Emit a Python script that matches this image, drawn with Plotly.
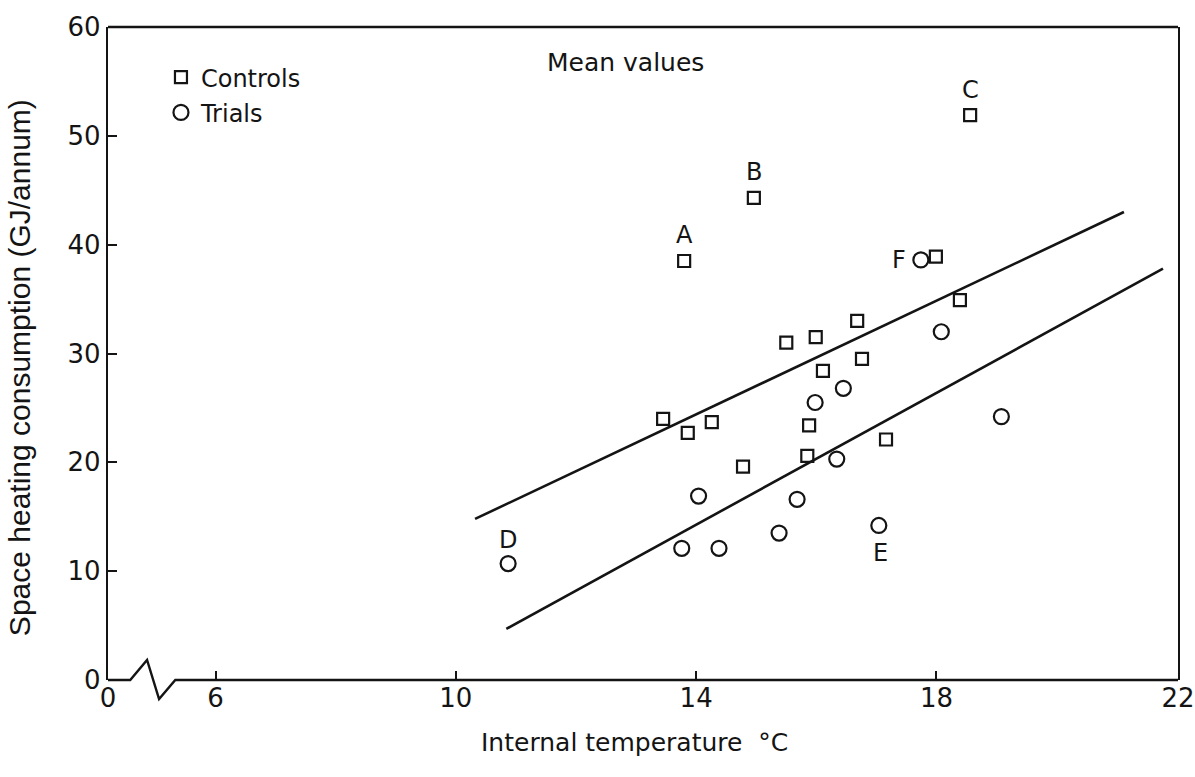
import plotly.graph_objects as go

# ---------------- data ----------------
ctrl_x = [13.80, 14.96, 18.56, 17.99, 18.39, 16.68, 15.99, 15.50, 16.76, 16.11,
          13.45, 14.26, 13.86, 15.88, 15.85, 14.78, 17.16]
ctrl_y = [38.5, 44.3, 51.9, 38.9, 34.9, 33.0, 31.5, 31.0, 29.5, 28.4,
          24.0, 23.7, 22.7, 23.4, 20.6, 19.6, 22.1]

trial_x = [17.74, 18.08, 19.08, 16.45, 15.98, 16.34, 14.04, 15.68, 15.38, 17.04,
           13.76, 14.38, 10.87]
trial_y = [38.6, 32.0, 24.2, 26.8, 25.5, 20.3, 16.9, 16.6, 13.5, 14.2,
           12.1, 12.1, 10.7]

upper_line_x = [10.32, 21.12]
upper_line_y = [14.8, 43.0]
lower_line_x = [10.84, 21.77]
lower_line_y = [4.7, 37.8]

# point labels
label_text = ["A", "B", "C", "D", "E", "F"]
label_x = [13.80, 14.96, 18.56, 10.87, 17.06, 17.38]
label_y = [40.9, 46.7, 54.2, 12.9, 11.7, 38.6]

xtick_vals = [4.21, 6, 10, 14, 18, 22.02]
xtick_text = ["0", "6", "10", "14", "18", "22"]
ytick_vals = [0, 10, 20, 30, 40, 50, 60]

# ---------------- layout constants ----------------
X0, X1 = 4.21, 22.02
Y0, Y1 = 0, 60
INK = "#141414"
FONT = "DejaVu Sans"

# axis-break zigzag on the x axis (data units)
break_x = [X0, 4.58, 4.86, 5.06, 5.33, X1]
break_y = [0, 0, 1.84, -1.75, 0, 0]


def px(x):
    return (x - X0) / (X1 - X0)


def py(y):
    return (y - Y0) / (Y1 - Y0)


fig = go.Figure()

fig.add_trace(go.Scatter(
    x=upper_line_x, y=upper_line_y, mode="lines",
    line=dict(color=INK, width=2.6), showlegend=False, hoverinfo="skip"))
fig.add_trace(go.Scatter(
    x=lower_line_x, y=lower_line_y, mode="lines",
    line=dict(color=INK, width=2.6), showlegend=False, hoverinfo="skip"))

fig.add_trace(go.Scatter(
    x=ctrl_x, y=ctrl_y, mode="markers", name="Controls", legendgroup="c",
    marker=dict(symbol="square-open", size=12, color=INK, line=dict(width=2.2, color=INK))))
fig.add_trace(go.Scatter(
    x=trial_x, y=trial_y, mode="markers", name="Trials", legendgroup="t",
    marker=dict(symbol="circle-open", size=15, color=INK, line=dict(width=2.2, color=INK))))

annotations = []
for t, x, y in zip(label_text, label_x, label_y):
    annotations.append(dict(x=x, y=y, xref="x", yref="y", text=t, showarrow=False,
                            xanchor="center", yanchor="middle",
                            font=dict(family=FONT, size=24, color=INK)))

annotations.append(dict(x=0.484, y=0.946, xref="paper", yref="paper", text="Mean values",
                        showarrow=False, xanchor="center", yanchor="middle",
                        font=dict(family=FONT, size=25, color=INK)))
annotations.append(dict(x=0.492, y=-0.095, xref="paper", yref="paper",
                        text="Internal temperature  °C", showarrow=False,
                        xanchor="center", yanchor="middle",
                        font=dict(family=FONT, size=25, color=INK)))
annotations.append(dict(x=-0.082, y=0.478, xref="paper", yref="paper",
                        text="Space heating consumption (GJ/annum)", showarrow=False,
                        textangle=-90, xanchor="center", yanchor="middle",
                        font=dict(family="Liberation Sans", size=30, color=INK)))

path = "M " + " L ".join(f"{px(x):.5f},{py(y):.5f}" for x, y in zip(break_x, break_y))
shapes = [
    dict(type="path", xref="paper", yref="paper", path=path,
         line=dict(color=INK, width=2.4)),
    dict(type="line", xref="paper", yref="paper", x0=0, x1=1, y0=1, y1=1,
         line=dict(color=INK, width=2.4)),
]

fig.update_layout(
    width=1195, height=777,
    margin=dict(l=108, r=17, t=27, b=97, autoexpand=False),
    paper_bgcolor="white", plot_bgcolor="white",
    font=dict(family=FONT, color=INK),
    annotations=annotations, shapes=shapes,
    legend=dict(x=0.0495, y=0.957, xanchor="left", yanchor="top",
                bgcolor="rgba(0,0,0,0)", font=dict(family=FONT, size=24, color=INK),
                tracegroupgap=1, traceorder="grouped", itemwidth=30),
    xaxis=dict(range=[X0, X1], tickvals=xtick_vals, ticktext=xtick_text,
               ticks="inside", ticklen=9, tickwidth=2, tickcolor=INK,
               showline=False, showgrid=False, zeroline=False, automargin=False,
               tickfont=dict(family=FONT, size=26, color=INK)),
    yaxis=dict(range=[Y0, Y1], tickvals=ytick_vals,
               ticks="inside", ticklen=9, tickwidth=2, tickcolor=INK,
               showline=True, mirror=True, linecolor=INK, linewidth=2.4,
               showgrid=False, zeroline=False, automargin=False,
               tickfont=dict(family=FONT, size=26, color=INK)),
)

fig.write_html("out.html")
